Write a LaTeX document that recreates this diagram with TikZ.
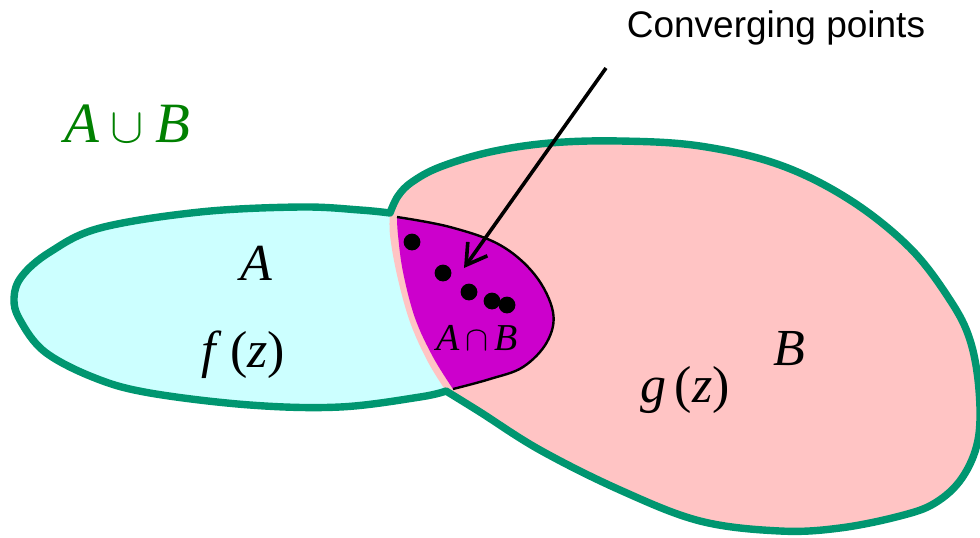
\documentclass[tikz,border=0pt]{standalone}
\usepackage{fontspec}
\setmainfont{Liberation Serif}
\newfontfamily\arialfont{Liberation Sans}
\usetikzlibrary{arrows.meta}
\definecolor{unionGreen}{RGB}{0,150,112}
\definecolor{aFill}{RGB}{204,255,255}
\definecolor{bFill}{RGB}{255,196,196}
\definecolor{iFill}{RGB}{204,0,204}
\definecolor{labGreen}{RGB}{0,128,0}
\begin{document}
\begin{tikzpicture}[x=0.5pt,y=-0.5pt,
  outline/.style={draw=unionGreen,line width=3.7pt,line join=round,line cap=round},
  biglab/.style={font=\fontsize{26}{26}\selectfont,inner sep=0pt,anchor=base},
  smalllab/.style={font=\fontsize{19}{19}\selectfont,inner sep=0pt,anchor=base},
  dotmark/.style={fill=black},
  pointer/.style={line width=1.8pt,-{Straight Barb[length=10pt,width=12pt]}}]
\useasboundingbox (0,0) rectangle (980,537);
% region A
\fill[aFill] plot[smooth,tension=0.6] coordinates {(446,391) (420,397) (340,407) (250,405) (150,393) (95,378) (45,352) (20,320) (14,298) (22,276) (50,252) (100,228) (200,212) (300,207) (360,210) (390,213)} -- cycle;
% region B
\fill[bFill] plot[smooth,tension=0.6] coordinates {(390,213) (398,196) (412,182) (440,167) (490,152) (550,143) (620,141) (700,146) (780,165) (850,200) (910,248) (950,300) (970,340) (979,390) (978,440) (962,478) (935,503) (900,516) (840,528) (780,531) (700,521) (620,490) (540,450) (480,412) (446,391)} -- plot[smooth,tension=0.6] coordinates {(446,391) (428,362) (410,322) (397,275) (390,235) (390,213)} -- cycle;
% intersection
\fill[iFill] plot[smooth,tension=0.6] coordinates {(397,217) (450,227) (500,245) (535,275) (553,312) (547,342) (523,367) (490,379) (453,389)} -- plot[smooth,tension=0.6] coordinates {(453,389) (433,357) (415,318) (403,272) (398,235) (397,217)} -- cycle;
\draw[black,line width=1.2pt] plot[smooth,tension=0.6] coordinates {(397,217) (450,227) (500,245) (535,275) (553,312) (547,342) (523,367) (490,379) (453,389)};
% union outline
\draw[outline] plot[smooth,tension=0.6] coordinates {(446,391) (420,397) (340,407) (250,405) (150,393) (95,378) (45,352) (20,320) (14,298) (22,276) (50,252) (100,228) (200,212) (300,207) (360,210) (390,213)} -- plot[smooth,tension=0.6] coordinates {(390,213) (398,196) (412,182) (440,167) (490,152) (550,143) (620,141) (700,146) (780,165) (850,200) (910,248) (950,300) (970,340) (979,390) (978,440) (962,478) (935,503) (900,516) (840,528) (780,531) (700,521) (620,490) (540,450) (480,412) (446,391)};
% converging points
\fill[dotmark] (412,242) circle[radius=4.2pt];
\fill[dotmark] (443,273) circle[radius=4.2pt];
\fill[dotmark] (469,292) circle[radius=4.2pt];
\fill[dotmark] (492,301) circle[radius=4.2pt];
\fill[dotmark] (507,305) circle[radius=4.2pt];
% labels
\node[inner sep=0pt,anchor=base,font=\arialfont\fontsize{18.5}{18.5}\selectfont] (conv) at (776,37) {Converging points};
\coordinate (arrTail) at (606,68);
\coordinate (arrHead) at (464,268);
\draw[pointer] (arrTail) -- (arrHead);
\node[biglab,font=\fontsize{28.5}{28.5}\selectfont,text=labGreen] (union) at (127,142) {\textit{A}\hspace{0.2em}$\cup$\hspace{0.2em}\textit{B}};
\node[biglab] (labA) at (256,280) {\textit{A}};
\node[biglab] (fz) at (243,367) {\textit{f}\,(\textit{z})};
\node[biglab] (labB) at (789,365) {\textit{B}};
\node[biglab] (gz) at (685,402) {\textit{g}\,(\textit{z})};
\node[smalllab] (inter) at (477,350) {\textit{A}\hspace{0.15em}$\cap$\hspace{0.15em}\textit{B}};
\end{tikzpicture}
\end{document}
